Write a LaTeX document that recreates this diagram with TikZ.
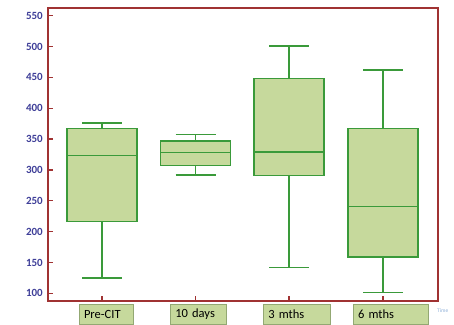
\documentclass[tikz,border=0pt]{standalone}
\usepackage{fontspec}
\setmainfont{Carlito}
\usetikzlibrary{positioning}
\definecolor{frameRed}{HTML}{A03232}
\definecolor{boxGreen}{HTML}{3A9A3A}
\definecolor{boxFill}{HTML}{C6D99C}
\definecolor{catEdge}{HTML}{93A873}
\definecolor{tickBlue}{HTML}{3E3E98}
\definecolor{timeBlue}{HTML}{8FB0D8}
\tikzset{
  plotframe/.style={draw=frameRed, line width=1.4pt},
  axistick/.style={draw=frameRed, line width=1.3pt},
  boxbody/.style={draw=boxGreen, fill=boxFill, line width=1.4pt},
  whisker/.style={draw=boxGreen, line width=1.4pt},
  ylbl/.style={font=\fontsize{11}{12}\selectfont\bfseries, text=tickBlue,
               anchor=east, inner sep=0pt},
  catbox/.style={draw=catEdge, fill=boxFill, line width=0.6pt, anchor=north west,
                 minimum height=20pt, inner xsep=5pt, inner ysep=0pt, align=left,
                 font=\fontsize{12.5}{13}\selectfont},
}

\begin{document}
\begin{tikzpicture}[x=1pt, y=-1pt,
  declare function={yv(\v)=355.0-0.6169*\v;}
]
\def\capHalf{20}   % half width of whisker caps
\def\boxHalf{35}   % half width of boxes

\useasboundingbox (0,0) rectangle (454,324);

%% Frame
\coordinate (pNW) at (48,8);
\coordinate (pSE) at (438,301);
\draw[plotframe] (pNW) rectangle (pSE);

%% Y axis
\foreach \v in {100,150,...,550} {
  \draw[axistick] (48,{yv(\v)}) -- ++(5,0);
  \node[ylbl] (y\v) at (43,{yv(\v)}) {\v};
}

%% Boxes
\foreach \i/\xc/\lo/\qa/\md/\qb/\hi in {1/102/125/216/323/367/376,
    2/195.7/292/307/328/347/357, 3/289/142/291/329/448.5/501,
    4/383/101/159/241/367/462} {
  \draw[axistick] (\xc,301) -- (\xc,295.5);
  \draw[whisker] (\xc,{yv(\lo)}) -- (\xc,{yv(\hi)});
  \draw[whisker] (\xc-\capHalf,{yv(\lo)}) -- (\xc+\capHalf,{yv(\lo)});
  \draw[whisker] (\xc-\capHalf,{yv(\hi)}) -- (\xc+\capHalf,{yv(\hi)});
  \draw[boxbody] (\xc-\boxHalf,{yv(\qa)}) rectangle (\xc+\boxHalf,{yv(\qb)});
  \draw[whisker] (\xc-\boxHalf,{yv(\md)}) -- (\xc+\boxHalf,{yv(\md)});
}

%% Categories
\foreach \i/\xl/\w/\lbl in {1/78.7/54.3/Pre-CIT, 2/170/55.7/10 days,
    3/263/67/3 mths, 4/352.7/75.3/6 mths} {
  \pgfmathsetmacro\tw{\w-10}
  \node[catbox, text width=\tw pt] (cat\i) at (\xl,304) {\lbl};
}
\node[font=\fontsize{5.5}{6}\selectfont, text=timeBlue, anchor=west, inner sep=0pt]
  (time) at (437,311) {Time};
\end{tikzpicture}
\end{document}
